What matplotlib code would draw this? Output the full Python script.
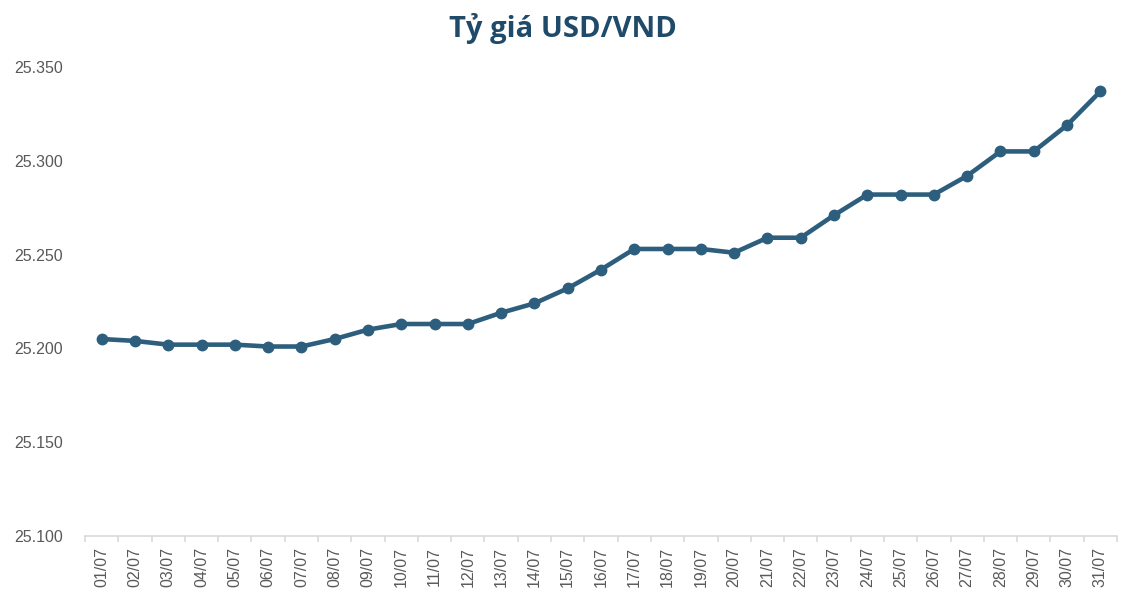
import matplotlib.pyplot as plt
import numpy as np
from matplotlib.ticker import FuncFormatter, FixedLocator, NullFormatter

# Dữ liệu tỷ giá USD/VND tháng 7
dates = ['01/07', '02/07', '03/07', '04/07', '05/07', '06/07', '07/07', '08/07',
         '09/07', '10/07', '11/07', '12/07', '13/07', '14/07', '15/07', '16/07',
         '17/07', '18/07', '19/07', '20/07', '21/07', '22/07', '23/07', '24/07',
         '25/07', '26/07', '27/07', '28/07', '29/07', '30/07', '31/07']
rates = [25205, 25204, 25202, 25202, 25202, 25201, 25201, 25205,
         25210, 25213, 25213, 25213, 25219, 25224, 25232, 25242,
         25253, 25253, 25253, 25251, 25259, 25259, 25271, 25282,
         25282, 25282, 25292, 25305, 25305, 25319, 25337]
y_ticks = [25100, 25150, 25200, 25250, 25300, 25350]

line_color = '#2E5E7E'
title_color = '#1F4A6A'
text_color = '#595959'

fig = plt.figure(figsize=(11.26, 6.10), dpi=100)
ax = fig.add_axes([85 / 1126, 74 / 610, 1032 / 1126, 469 / 610])

x = np.arange(len(dates))
ax.plot(x, rates, color=line_color, linewidth=3.3, marker='o', markersize=7.5,
        solid_capstyle='round', zorder=3)

ax.set_xlim(-0.5, len(dates) - 0.5)
ax.set_ylim(y_ticks[0], y_ticks[-1])

# trục y: chỉ nhãn, không vạch
ax.set_yticks(y_ticks)
ax.yaxis.set_major_formatter(FuncFormatter(lambda v, p: f'{v / 1000:.3f}'))
ax.tick_params(axis='y', length=0, pad=16, labelsize=11.5, labelcolor=text_color)
for lbl in ax.get_yticklabels():
    lbl.set_fontfamily('Liberation Sans')

# trục x: nhãn ở giữa, vạch ở ranh giới các ngày
ax.set_xticks(x)
ax.set_xticklabels(dates, rotation=90, fontsize=11.5, color=text_color,
                   fontfamily='Liberation Sans')
ax.tick_params(axis='x', which='major', length=0, pad=8)
ax.xaxis.set_minor_locator(FixedLocator(np.arange(-0.5, len(dates), 1)))
ax.xaxis.set_minor_formatter(NullFormatter())
ax.tick_params(axis='x', which='minor', length=4, width=1.2, color='#D9D9D9',
               direction='out')

for side in ['top', 'right', 'left']:
    ax.spines[side].set_visible(False)
ax.spines['bottom'].set_color('#D9D9D9')
ax.spines['bottom'].set_linewidth(1.2)

fig.text(0.5, 1 - 28 / 610, 'Tỷ giá USD/VND', ha='center', va='center',
         fontsize=21, fontweight='bold', color=title_color,
         fontfamily='Open Sans')

fig.savefig('out.png', dpi=100, facecolor='white')
